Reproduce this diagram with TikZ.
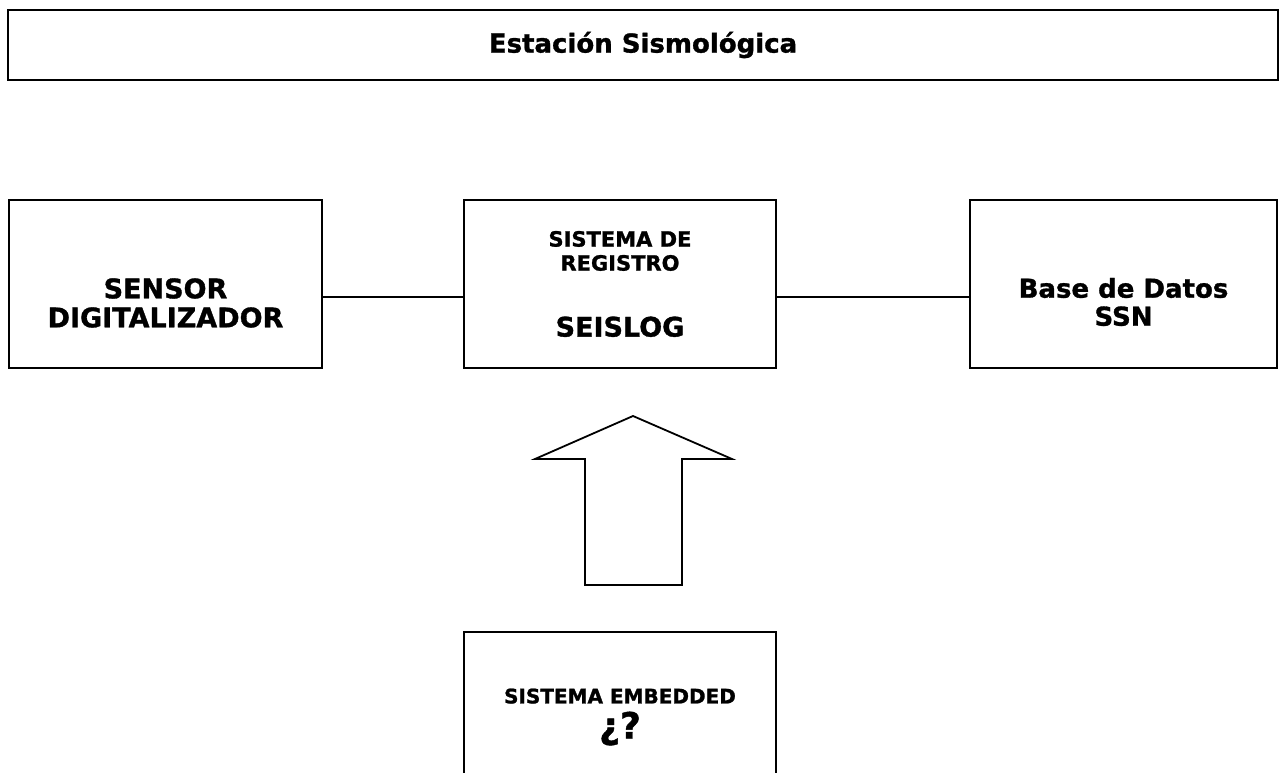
\documentclass[tikz,border=0pt]{standalone}
\usepackage{fontspec}
\setmainfont[BoldFeatures={FakeBold=1.2}]{DejaVu Sans}
\tikzset{caja/.style={draw, line width=1.8pt, minimum width=#1, minimum height=168pt, inner sep=0pt},
	texto/.style={align=center, inner sep=0pt, font=\fontsize{#1}{#1}\selectfont\bfseries}}
\begin{document}
\begin{tikzpicture}[x=1pt, y=1pt, line join=miter, font=\bfseries]
		\useasboundingbox (0,0) rectangle (1281,772);
		% cajas
		\node[caja=1270pt, minimum height=70pt, texto=26] (titulo) at (643,727) {Estación Sismológica};
		\node[caja=313pt] (sensor) at (165.5,488) {};
		\node[caja=312pt] (registro) at (620,488) {};
		\node[caja=307pt] (base) at (1123.5,488) {};
		\node[caja=312pt, minimum height=160pt] (embebido) at (620,60) {};
		% textos
		\node[texto=29] (sensortxt) at ([yshift=-19]sensor.center) {\fontsize{27}{27}\selectfont SENSOR\\\fontsize{27}{27}\selectfont DIGITALIZADOR};
		\node[texto=28] (basetxt) at ([yshift=-18]base.center) {\fontsize{26}{26}\selectfont Base de Datos\\\fontsize{26}{26}\selectfont SSN};
		\node[texto=24] (registrotxt) at (registro.center) {\fontsize{21}{21}\selectfont SISTEMA DE\\\fontsize{21}{21}\selectfont REGISTRO\\[42pt]\fontsize{27}{27}\selectfont SEISLOG};
		\node[texto=28] (embebidotxt) at ([yshift=-5]embebido.center) {\fontsize{20}{20}\selectfont SISTEMA EMBEDDED\\[7pt]\fontsize{36}{36}\selectfont ¿?};
		% conexiones
		\draw[line width=1.8pt] ([yshift=-13]sensor.east)--([yshift=-13]registro.west) ([yshift=-13]registro.east)--([yshift=-13]base.west);
		\draw[line width=1.8pt] (633,356)--(732,313)--(682,313)--(682,187)--(585,187)--(585,313)--(535,313)--cycle;
	\end{tikzpicture}
\end{document}
